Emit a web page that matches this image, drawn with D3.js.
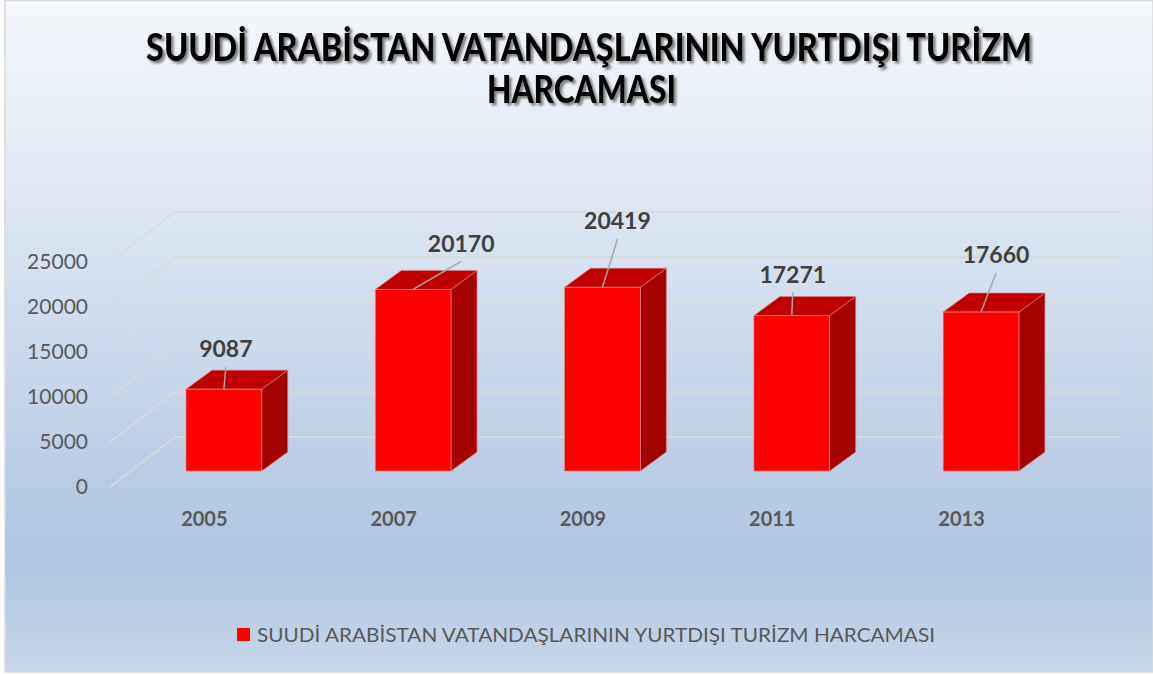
<!DOCTYPE html>
<html>
<head>
<meta charset="utf-8">
<script src="https://cdn.jsdelivr.net/npm/d3@7"></script>
<style>
  html, body { margin: 0; padding: 0; background: #ffffff; }
  svg { display: block; }
</style>
</head>
<body>
<svg id="chart" width="1153" height="675"></svg>
<script>
// ---- data ----
const categories = ["2005", "2007", "2009", "2011", "2013"];
const values = [9087, 20170, 20419, 17271, 17660];
const yTicks = [0, 5000, 10000, 15000, 20000, 25000];
const seriesName = "SUUDİ ARABİSTAN VATANDAŞLARININ YURTDIŞI TURİZM HARCAMASI";
const titleLines = ["SUUDİ ARABİSTAN VATANDAŞLARININ YURTDIŞI TURİZM", "HARCAMASI"];

// ---- layout (not data) ----
const W = 1153, H = 675;
const labelNudge = [[2, -40], [48, -46], [15, -66], [1, -41], [15, -57]]; // manual label placement relative to bar top-centre
const depthDx = 26, depthDy = -19;
const barBase = 471;      // bar front-face baseline
const wallBase = 437;     // back wall zero line
const sideFrontX = 110, sideBackX = 175, wallEndX = 1120;
const sideFrontBase = 487;

const svg = d3.select("#chart");
const defs = svg.append("defs");

const grad = defs.append("linearGradient").attr("id", "bg").attr("x1", 0).attr("y1", 0).attr("x2", 0).attr("y2", 1);
[[0, "#f4f7fc"], [0.3, "#dde7f3"], [0.6, "#c4d4ea"], [0.83, "#aec4e1"], [1, "#c8d7ea"]]
  .forEach(([o, c]) => grad.append("stop").attr("offset", o).attr("stop-color", c));

const shadow = defs.append("filter").attr("id", "tshadow").attr("x", "-5%").attr("y", "-30%").attr("width", "110%").attr("height", "160%");
shadow.append("feDropShadow").attr("dx", 2.5).attr("dy", 2.5).attr("stdDeviation", 1.2)
  .attr("flood-color", "#6b6b6b").attr("flood-opacity", 0.85);

// background
svg.append("rect").attr("x", 5).attr("y", 0.5).attr("width", W - 5).attr("height", 671.5)
  .attr("fill", "url(#bg)").attr("stroke", "#d9d9d9").attr("stroke-width", 1.5);

// scales
const x = d3.scaleBand().domain(categories).range([129.2, 1075.7]).paddingInner(0.6).paddingOuter(0.3);
const h = d3.scaleLinear().domain([0, 25000]).range([0, 225]);

// gridlines: side diagonal + back wall
const grid = svg.append("g");
grid.selectAll("path").data(yTicks).join("path")
  .attr("d", v => {
    const d = h(v);
    return `M${sideFrontX},${sideFrontBase - d}L${sideBackX},${wallBase - d}L${wallEndX},${wallBase - d}`;
  })
  .attr("fill", "none").attr("stroke", "#d9d9d9").attr("stroke-width", 2).attr("stroke-opacity", 0.9);

// y tick labels
svg.append("g").selectAll("text").data(yTicks).join("text")
  .attr("x", 88).attr("y", v => sideFrontBase - h(v))
  .attr("dy", "0.35em").attr("text-anchor", "end")
  .attr("font-family", "Lato, 'Open Sans', sans-serif").attr("font-size", 21)
  .attr("fill", "#595959").text(v => v);

// bars
const bars = svg.append("g").selectAll("g").data(values).join("g");
bars.each(function (v, i) {
  const g = d3.select(this);
  const L = x(categories[i]), R = L + x.bandwidth();
  const top = barBase - h(v);
  g.append("path") // side
    .attr("d", `M${R},${top}L${R + depthDx},${top + depthDy}L${R + depthDx},${barBase + depthDy}L${R},${barBase}Z`)
    .attr("fill", "#a30000").attr("stroke", "#d47a7a").attr("stroke-width", 0.7);
  g.append("path") // top
    .attr("d", `M${L},${top}L${L + depthDx},${top + depthDy}L${R + depthDx},${top + depthDy}L${R},${top}Z`)
    .attr("fill", "#c00000").attr("stroke", "#d47a7a").attr("stroke-width", 0.7);
  g.append("rect") // front
    .attr("x", L).attr("y", top).attr("width", R - L).attr("height", h(v))
    .attr("fill", "#ff0000").attr("stroke", "#e08a8a").attr("stroke-width", 0.7);
});

// data labels with leader lines
const lab = svg.append("g");
values.forEach((v, i) => {
  const cx = x(categories[i]) + x.bandwidth() / 2;
  const top = barBase - h(v);
  const lx = cx + labelNudge[i][0], ly = top + labelNudge[i][1];
  lab.append("line").attr("x1", lx).attr("y1", ly + 18).attr("x2", cx).attr("y2", top)
    .attr("stroke", "#a6a6a6").attr("stroke-width", 1.5);
  lab.append("text").attr("x", lx).attr("y", ly).attr("dy", "0.35em")
    .attr("text-anchor", "middle").attr("font-family", "Lato, 'Open Sans', sans-serif")
    .attr("font-weight", 700).attr("font-size", 23).attr("fill", "#404040").text(v);
});

// category labels
svg.append("g").selectAll("text").data(categories).join("text")
  .attr("x", c => x(c) + x.bandwidth() / 2 - 19.5).attr("y", 526)
  .attr("text-anchor", "middle").attr("font-family", "Lato, 'Open Sans', sans-serif")
  .attr("font-weight", 700).attr("font-size", 20).attr("fill", "#595959").text(c => c);

// title
const titleSpec = [{ cx: 589, y: 61, len: 886 }, { cx: 581.5, y: 103, len: 189 }];
svg.append("g").attr("filter", "url(#tshadow)").selectAll("text").data(titleLines).join("text")
  .attr("x", (d, i) => titleSpec[i].cx).attr("y", (d, i) => titleSpec[i].y)
  .attr("text-anchor", "middle").attr("font-family", "Lato, 'Open Sans', sans-serif")
  .attr("font-weight", 900).attr("font-size", 37).attr("fill", "#000000")
  .attr("textLength", (d, i) => titleSpec[i].len).attr("lengthAdjust", "spacingAndGlyphs")
  .text(d => d);

// legend
const leg = svg.append("g");
leg.append("rect").attr("x", 237).attr("y", 628).attr("width", 13).attr("height", 13).attr("fill", "#ff0000");
leg.append("text").attr("x", 257).attr("y", 642)
  .attr("font-family", "Lato, 'Open Sans', sans-serif").attr("font-size", 20).attr("fill", "#595959")
  .attr("textLength", 678).attr("lengthAdjust", "spacingAndGlyphs").text(seriesName);
</script>
</body>
</html>
